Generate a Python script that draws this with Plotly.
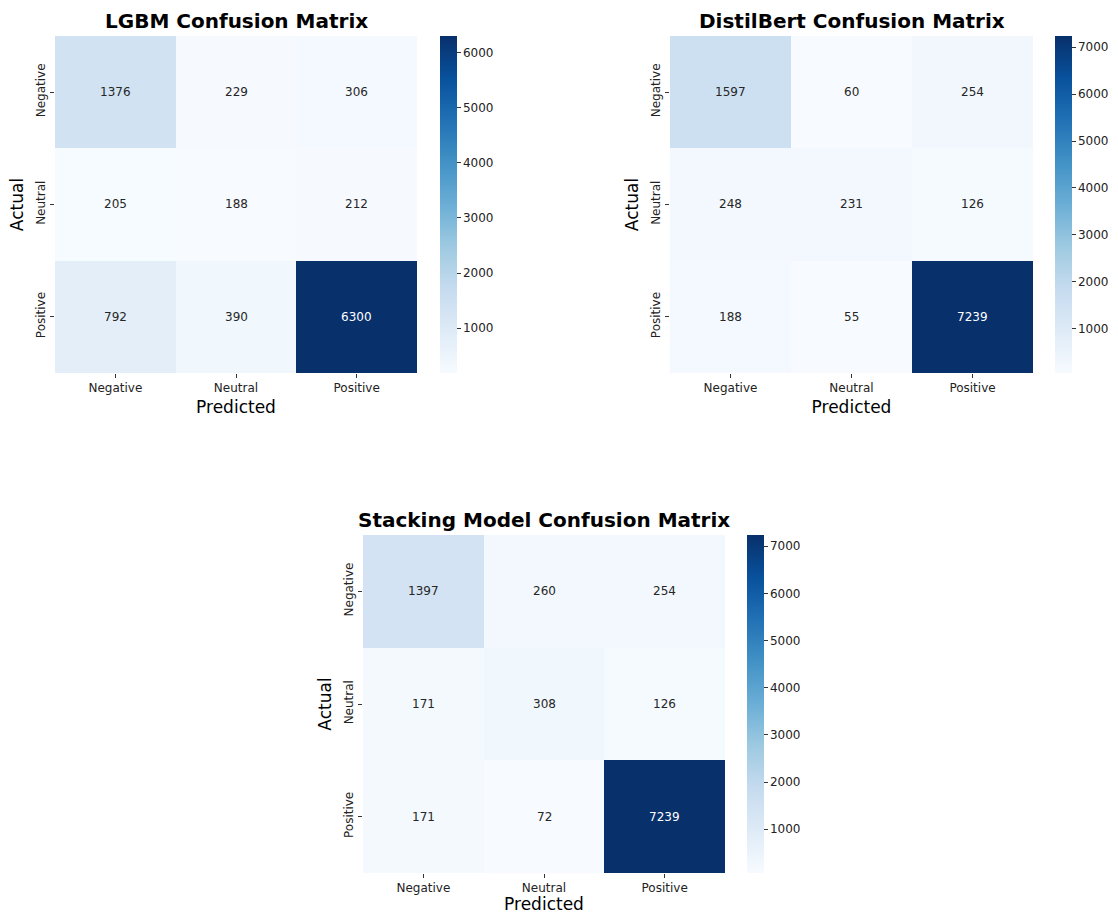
import plotly.graph_objects as go

# Class labels shared by all three confusion matrices
labels = ["Negative", "Neutral", "Positive"]

# Confusion matrices: rows = actual, columns = predicted
lgbm_cm = [
    [1376, 229, 306],
    [205, 188, 212],
    [792, 390, 6300],
]
distilbert_cm = [
    [1597, 60, 254],
    [248, 231, 126],
    [188, 55, 7239],
]
stacking_cm = [
    [1397, 260, 254],
    [171, 308, 126],
    [171, 72, 7239],
]

titles = [
    "LGBM Confusion Matrix",
    "DistilBert Confusion Matrix",
    "Stacking Model Confusion Matrix",
]

# matplotlib / colorbrewer "Blues"
blues = [
    [0.000, "rgb(247,251,255)"],
    [0.125, "rgb(222,235,247)"],
    [0.250, "rgb(198,219,239)"],
    [0.375, "rgb(158,202,225)"],
    [0.500, "rgb(107,174,214)"],
    [0.625, "rgb(66,146,198)"],
    [0.750, "rgb(33,113,181)"],
    [0.875, "rgb(8,81,156)"],
    [1.000, "rgb(8,48,107)"],
]

W, H = 1118, 914
FONT = "DejaVu Sans"


def fx(px):
    return px / W


def fy(px):
    return 1 - px / H


# pixel boxes: (left, right, top, bottom) for heatmap, colorbar left edge, title centre
panels = [
    dict(box=(55, 417, 36, 373), cbx=440, ty=21),
    dict(box=(670, 1033, 36, 373), cbx=1055, ty=21),
    dict(box=(363, 725, 535, 873), cbx=747, ty=520),
]

fig = go.Figure()
annotations = []

for i, (cm, title, p) in enumerate(zip([lgbm_cm, distilbert_cm, stacking_cm], titles, panels)):
    n = i + 1
    xa = "x" if n == 1 else f"x{n}"
    ya = "y" if n == 1 else f"y{n}"
    l, r, t, b = p["box"]
    flat = [v for row in cm for v in row]
    zmin, zmax = min(flat), max(flat)

    fig.add_trace(go.Heatmap(
        z=cm, x=labels, y=labels,
        xaxis=xa, yaxis=ya,
        colorscale=blues, zmin=zmin, zmax=zmax,
        xgap=0, ygap=0,
        hoverinfo="skip",
        colorbar=dict(
            x=fx(p["cbx"]), xanchor="left", xpad=0,
            y=fy(b), yanchor="bottom", ypad=0,
            len=(b - t) / H, lenmode="fraction",
            thickness=17, thicknessmode="pixels",
            outlinewidth=0,
            tick0=0, dtick=1000,
            ticks="outside", ticklen=4, tickwidth=1, tickcolor="#333",
            tickfont=dict(family=FONT, size=12, color="#222"),
        ),
    ))

    # cell value labels, white on dark cells
    for ri, row in enumerate(cm):
        for ci, v in enumerate(row):
            frac = (v - zmin) / (zmax - zmin)
            annotations.append(dict(
                x=labels[ci], y=labels[ri], xref=xa, yref=ya,
                text=str(v), showarrow=False,
                font=dict(family=FONT, size=12,
                          color="white" if frac > 0.6 else "#262626"),
            ))

    # panel title
    annotations.append(dict(
        x=fx((l + r) / 2), y=fy(p["ty"]), xref="paper", yref="paper",
        text=f"<b>{title}</b>", showarrow=False,
        xanchor="center", yanchor="middle",
        font=dict(family=FONT, size=20, color="black"),
    ))

    axis_common = dict(
        showgrid=False, zeroline=False, showline=False,
        ticks="outside", ticklen=4, tickwidth=1, tickcolor="#333",
        tickfont=dict(family=FONT, size=12, color="#222"),
    )
    fig.layout[f"xaxis{'' if n == 1 else n}"] = dict(
        domain=[fx(l), fx(r)], anchor=ya,
        title=dict(text="Predicted", font=dict(family=FONT, size=17, color="black"), standoff=6),
        **axis_common,
    )
    fig.layout[f"yaxis{'' if n == 1 else n}"] = dict(
        domain=[fy(b), fy(t)], anchor=xa,
        autorange="reversed", tickangle=-90,
        title=dict(text="Actual", font=dict(family=FONT, size=17, color="black"), standoff=6),
        **axis_common,
    )

fig.update_layout(
    width=W, height=H,
    margin=dict(l=0, r=0, t=0, b=0),
    paper_bgcolor="white", plot_bgcolor="white",
    annotations=annotations,
    showlegend=False,
    font=dict(family=FONT),
)

fig.write_html("out.html")
